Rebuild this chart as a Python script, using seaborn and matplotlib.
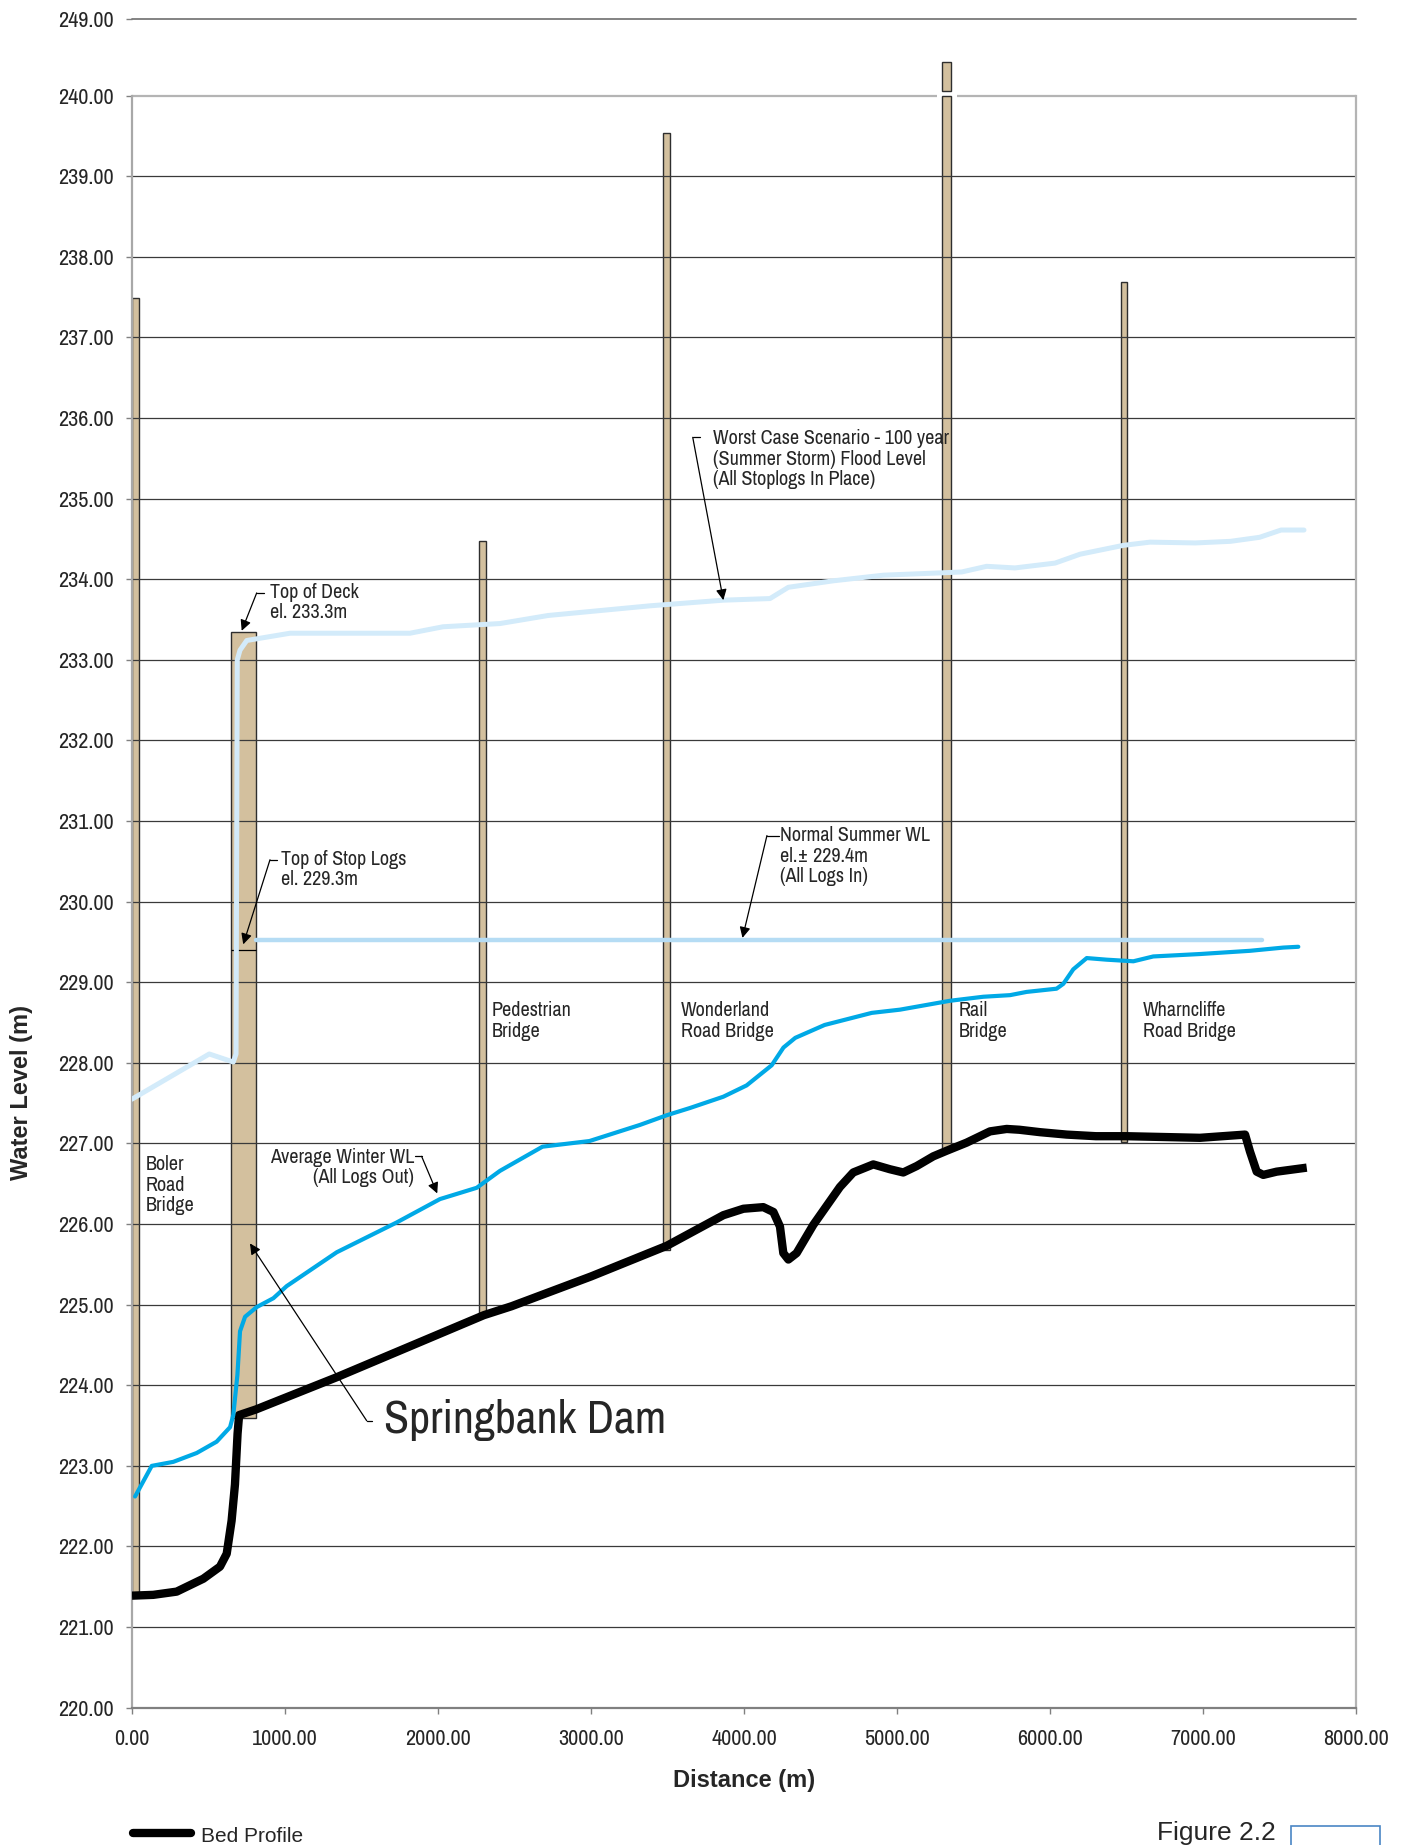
import matplotlib
matplotlib.use("Agg")
import matplotlib.pyplot as plt
import numpy as np
import seaborn as sns
from matplotlib.lines import Line2D
from matplotlib.patches import Rectangle

# ---- profile data (distance m, elevation m) ----
bed_dist = [0, 139, 292, 466, 575, 619, 651, 673, 690, 700, 810, 1338, 2300, 2480,
            3000, 3495, 3865, 3996, 4126, 4192, 4235, 4257, 4290, 4344, 4453, 4627,
            4714, 4845, 4954, 5041, 5129, 5237, 5325, 5455, 5608, 5717, 5800, 5935,
            6109, 6300, 6501, 6980, 7275, 7307, 7351, 7394, 7481, 7678]
bed_elev = [221.39, 221.40, 221.44, 221.60, 221.75, 221.91, 222.32, 222.77, 223.40,
            223.63, 223.70, 224.10, 224.87, 224.98, 225.35, 225.73, 226.11, 226.19,
            226.21, 226.15, 225.97, 225.64, 225.56, 225.64, 225.99, 226.46, 226.64,
            226.74, 226.68, 226.64, 226.72, 226.84, 226.91, 227.01, 227.15, 227.18,
            227.17, 227.14, 227.11, 227.09, 227.09, 227.07, 227.11, 226.90, 226.65,
            226.61, 226.65, 226.70]

winter_dist = [20, 129, 270, 423, 553, 641, 662, 689, 706, 739, 815, 924, 1011, 1338,
               1730, 2013, 2253, 2405, 2683, 2990, 3320, 3495, 3647, 3865, 4017, 4181,
               4258, 4335, 4527, 4835, 5020, 5346, 5564, 5739, 5847, 6043, 6087, 6152,
               6240, 6370, 6545, 6675, 6980, 7307, 7525, 7623]
winter_elev = [222.62, 223.00, 223.05, 223.16, 223.30, 223.48, 223.63, 224.13, 224.67,
               224.85, 224.97, 225.08, 225.23, 225.65, 226.02, 226.31, 226.45, 226.66,
               226.96, 227.03, 227.23, 227.35, 227.44, 227.58, 227.72, 227.97, 228.19,
               228.31, 228.47, 228.62, 228.66, 228.77, 228.82, 228.84, 228.88, 228.92,
               228.98, 229.16, 229.30, 229.28, 229.26, 229.32, 229.35, 229.39, 229.43,
               229.44]

flood_dist = [0, 505, 662, 680, 688, 706, 750, 1033, 1817, 2033, 2405, 2720, 3220, 3386,
              3865, 4170, 4290, 4583, 4911, 5303, 5423, 5586, 5771, 6033, 6196, 6479,
              6654, 6950, 7180, 7370, 7510, 7660]
flood_elev = [227.55, 228.11, 228.01, 228.11, 233.00, 233.12, 233.24, 233.33, 233.33,
              233.41, 233.45, 233.55, 233.64, 233.67, 233.74, 233.76, 233.90, 233.98,
              234.05, 234.08, 234.09, 234.16, 234.14, 234.20, 234.31, 234.42, 234.46,
              234.45, 234.47, 234.52, 234.61, 234.61]

summer_dist = [810, 7384]
summer_elev = [229.53, 229.53]

# bridge / dam piers
pier_start = [0, 650, 2268, 3473, 5297, 6465]
pier_end = [46, 810, 2314, 3516, 5351, 6501]
pier_bottom = [221.39, 223.60, 224.87, 225.68, 226.93, 227.02]
pier_top = [237.49, 233.35, 234.48, 239.54, 240.00, 237.69]
rail_cap = [240.06, 240.42]
stoplog_elev = 229.4

x_ticks = [0, 1000, 2000, 3000, 4000, 5000, 6000, 7000, 8000]
y_values = list(range(220, 241))
y_top_label = "249.00"

NARROW = ["Archivo Narrow", "Liberation Sans", "DejaVu Sans"]
REGULAR = ["Liberation Sans", "DejaVu Sans"]

sns.set_style("white")
plt.rcParams["font.family"] = NARROW

W, H = 1406, 1845
fig = plt.figure(figsize=(W / 100, H / 100), dpi=100)
ax_left, ax_right, ax_bot, ax_top = 132, 1356, 1707.7, 19
ax = fig.add_axes([ax_left / W, 1 - ax_bot / H, (ax_right - ax_left) / W, (ax_bot - ax_top) / H])
ax.set_xlim(0, 8000)
ax.set_ylim(220, 240.95)

pier_color = "#d3c09e"
pier_edge = "#2e2e2e"
ax.bar(pier_start, np.subtract(pier_top, pier_bottom), width=np.subtract(pier_end, pier_start),
       bottom=pier_bottom, align="edge", color=pier_color, edgecolor=pier_edge, lw=1.0, zorder=1)
ax.bar(pier_start[4], rail_cap[1] - rail_cap[0], width=pier_end[4] - pier_start[4],
       bottom=rail_cap[0], align="edge", color=pier_color, edgecolor=pier_edge, lw=1.0, zorder=1)

# gridlines over the piers, plot-area frame
ax.hlines(y_values[1:-1], 0, 8000, color="#3a3a3a", lw=0.9, zorder=1.5)
ax.hlines([240, 240], [0, 5392], [5261, 8000], color="#b4b4b4", lw=1.6, zorder=1.5)
ax.axhline(240.95, color="#7a7a7a", lw=1.3, clip_on=False, zorder=1.5)
ax.hlines(stoplog_elev, pier_start[1], pier_end[1], color="black", lw=0.9, zorder=2)

ax.spines["top"].set_visible(False)
ax.spines["left"].set_bounds(220, 240)
ax.spines["right"].set_bounds(220, 240)
ax.spines["left"].set_color("#a8a8a8")
ax.spines["right"].set_color("#b4b4b4")
ax.spines["bottom"].set_color("#808080")
for s in ["left", "right", "bottom"]:
    ax.spines[s].set_linewidth(1.6)

# profiles
sns.lineplot(x=flood_dist, y=flood_elev, ax=ax, color="#d3ebfa", lw=3.6, sort=False,
             estimator=None, zorder=3)
sns.lineplot(x=summer_dist, y=summer_elev, ax=ax, color="#b5dcf4", lw=3.2, sort=False,
             estimator=None, zorder=3)
sns.lineplot(x=winter_dist, y=winter_elev, ax=ax, color="#00a9e6", lw=3.0, sort=False,
             estimator=None, zorder=4)
sns.lineplot(x=bed_dist, y=bed_elev, ax=ax, color="black", lw=6.0, sort=False,
             estimator=None, zorder=3.5, solid_joinstyle="round", solid_capstyle="butt")

# ticks
ax.set_xticks(x_ticks)
ax.set_xticklabels([f"{v:.2f}" for v in x_ticks])
ax.set_yticks(y_values + [240.95])
ax.set_yticklabels([f"{v:.2f}" for v in y_values] + [y_top_label])
ax.tick_params(axis="both", direction="out", length=4, width=1, color="#808080",
               labelsize=16, bottom=True, left=True)
ax.tick_params(axis="x", pad=11)
ax.tick_params(axis="y", pad=9)
ax.set_xlabel("")
ax.set_ylabel("")

fig.text(744 / W, 1 - 1780 / H, "Distance (m)", ha="center", va="center",
         fontsize=17, fontweight="bold", family=REGULAR)
fig.text(22 / W, 1 - 1092 / H, "Water Level (m)", ha="center", va="center",
         rotation=90, fontsize=17, fontweight="bold", family=REGULAR)

# bridge labels
label_kw = dict(fontsize=14.5, ha="left", va="center", linespacing=1.1, zorder=6)
ax.text(92, 226.48, "Boler\nRoad\nBridge", **label_kw)
ax.text(2353, 228.52, "Pedestrian\nBridge", **label_kw)
ax.text(3588, 228.52, "Wonderland\nRoad Bridge", **label_kw)
ax.text(5405, 228.52, "Rail\nBridge", **label_kw)
ax.text(6605, 228.52, "Wharncliffe\nRoad Bridge", **label_kw)


def leader(text_xy, elbow_xy, tip_xy):
    ax.plot([text_xy[0], elbow_xy[0]], [text_xy[1], elbow_xy[1]], color="black", lw=0.9, zorder=6)
    ax.annotate("", xy=tip_xy, xytext=elbow_xy,
                arrowprops=dict(arrowstyle="-|>", color="black", lw=0.9, mutation_scale=16,
                                shrinkA=0, shrinkB=0), zorder=6)


leader((864, 233.83), (815, 233.83), (717, 233.36))
ax.text(899, 233.71, "Top of Deck\nel. 233.3m", **label_kw)

leader((946, 230.52), (902, 230.52), (727, 229.47))
ax.text(974, 230.40, "Top of Stop Logs\nel. 229.3m", **label_kw)

leader((3712, 235.76), (3665, 235.76), (3865, 233.74))
ax.text(3797, 235.49, "Worst Case Scenario - 100 year\n(Summer Storm) Flood Level\n(All Stoplogs In Place)",
        **label_kw)

leader((4229, 230.82), (4150, 230.82), (3990, 229.55))
ax.text(4235, 230.56, "Normal Summer WL\nel.\u00b1 229.4m\n(All Logs In)", **label_kw)

leader((1850, 226.84), (1893, 226.84), (1995, 226.38))
ax.text(1843, 226.70, "Average Winter WL\n(All Logs Out)", fontsize=14.5, ha="right",
        va="center", linespacing=1.1, multialignment="right", zorder=6)

leader((1571, 223.56), (1534, 223.56), (771, 225.76))
ax.text(1647, 223.57, "Springbank Dam", fontsize=33, ha="left", va="center", zorder=6)

# legend & figure tag along the bottom edge
fig.add_artist(Line2D([133 / W, 191 / W], [1 - 1833 / H] * 2, color="black", lw=6,
                      transform=fig.transFigure))
fig.text(201 / W, 1 - 1836 / H, "Bed Profile", ha="left", va="center", fontsize=15,
         family=REGULAR)
fig.text(1157 / W, 1 - 1840 / H, "Figure 2.2", ha="left", va="baseline", fontsize=19,
         family=REGULAR)
fig.add_artist(Rectangle((1291 / W, -0.01), 89 / W, (1845 - 1826) / H + 0.01,
                         transform=fig.transFigure, fill=False, edgecolor="#4a86c5", lw=1.2))

fig.savefig("out.png", dpi=100)
